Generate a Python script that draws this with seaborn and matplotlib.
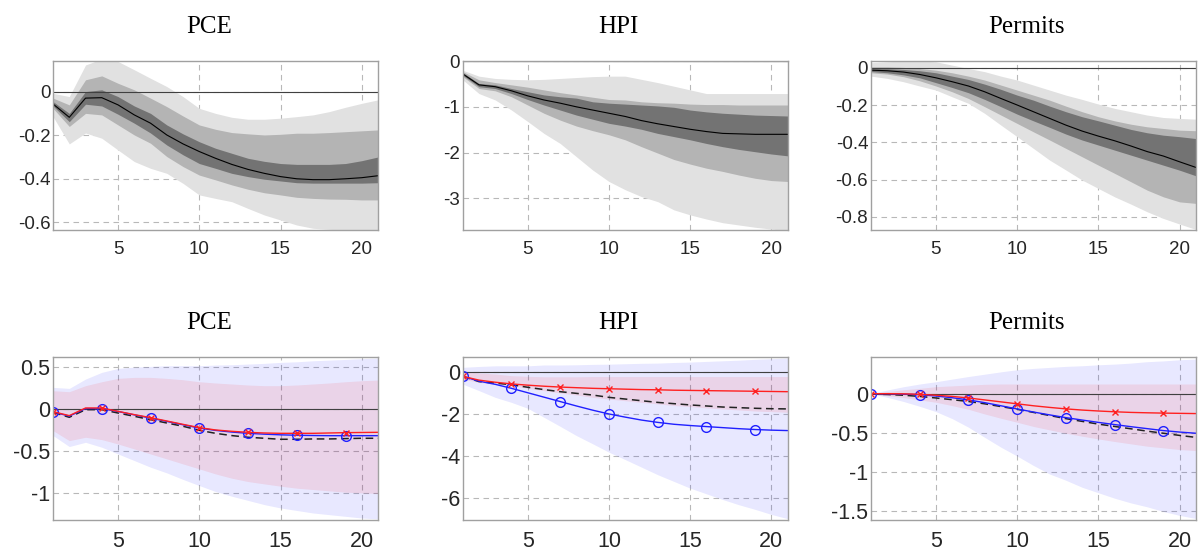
import pandas as pd
import matplotlib.pyplot as plt
import seaborn as sns

# horizons 1..21
horizon = list(range(1, 22))
titles = ['PCE', 'HPI', 'Permits']

# ---- top row: median and three bands (inner / middle / outer) ----
pce_med = [-0.057, -0.118, -0.03, -0.028, -0.061, -0.107, -0.145, -0.199, -0.24, -0.275, -0.306,
           -0.334, -0.357, -0.375, -0.39, -0.40, -0.404, -0.404, -0.40, -0.395, -0.386]
pce_in_hi = [-0.046, -0.1, 0.0, 0.008, -0.023, -0.066, -0.1, -0.153, -0.194, -0.23, -0.26,
             -0.283, -0.306, -0.32, -0.33, -0.334, -0.334, -0.334, -0.33, -0.317, -0.30]
pce_in_lo = [-0.066, -0.138, -0.058, -0.066, -0.104, -0.145, -0.19, -0.245, -0.29, -0.33, -0.352,
             -0.375, -0.39, -0.402, -0.41, -0.418, -0.42, -0.42, -0.42, -0.42, -0.418]
pce_mid_hi = [-0.03, -0.061, 0.054, 0.072, 0.038, 0.008, -0.03, -0.069, -0.112, -0.153, -0.173,
              -0.188, -0.194, -0.199, -0.196, -0.191, -0.191, -0.188, -0.184, -0.18, -0.176]
pce_mid_lo = [-0.077, -0.16, -0.10, -0.107, -0.153, -0.199, -0.237, -0.298, -0.344, -0.383, -0.405,
              -0.428, -0.448, -0.464, -0.474, -0.485, -0.49, -0.493, -0.494, -0.497, -0.497]
pce_out_hi = [-0.008, -0.023, 0.122, 0.15, 0.138, 0.10, 0.061, 0.023, -0.023, -0.077, -0.1,
              -0.118, -0.127, -0.127, -0.122, -0.115, -0.107, -0.092, -0.072, -0.054, -0.038]
pce_out_lo = [-0.115, -0.24, -0.19, -0.214, -0.268, -0.321, -0.352, -0.375, -0.421, -0.474, -0.49,
              -0.505, -0.536, -0.566, -0.589, -0.612, -0.627, -0.632, -0.635, -0.64, -0.632]

hpi_med = [-0.28, -0.52, -0.56, -0.65, -0.76, -0.85, -0.92, -1.0, -1.07, -1.14, -1.21,
           -1.30, -1.37, -1.43, -1.49, -1.54, -1.58, -1.59, -1.60, -1.60, -1.60]
hpi_in_hi = [-0.25, -0.49, -0.52, -0.6, -0.67, -0.74, -0.78, -0.81, -0.89, -0.92, -0.94,
             -0.96, -0.98, -1.01, -1.07, -1.11, -1.14, -1.16, -1.18, -1.19, -1.2]
hpi_in_lo = [-0.31, -0.56, -0.6, -0.71, -0.84, -0.96, -1.07, -1.18, -1.27, -1.36, -1.42,
             -1.49, -1.58, -1.65, -1.72, -1.8, -1.87, -1.93, -1.98, -2.03, -2.07]
hpi_mid_hi = [-0.23, -0.41, -0.47, -0.52, -0.57, -0.63, -0.69, -0.74, -0.79, -0.84, -0.85,
              -0.89, -0.91, -0.92, -0.94, -0.95, -0.95, -0.96, -0.96, -0.96, -0.96]
hpi_mid_lo = [-0.34, -0.6, -0.65, -0.78, -0.96, -1.14, -1.29, -1.42, -1.52, -1.61, -1.72,
              -1.87, -2.01, -2.15, -2.25, -2.34, -2.41, -2.49, -2.56, -2.61, -2.63]
hpi_out_hi = [-0.2, -0.33, -0.38, -0.4, -0.41, -0.4, -0.38, -0.36, -0.34, -0.33, -0.33,
              -0.4, -0.47, -0.55, -0.63, -0.71, -0.71, -0.71, -0.71, -0.71, -0.71]
hpi_out_lo = [-0.41, -0.71, -0.85, -1.07, -1.32, -1.58, -1.8, -2.09, -2.38, -2.63, -2.81,
              -2.96, -3.07, -3.25, -3.36, -3.45, -3.53, -3.58, -3.63, -3.67, -3.7]

prm_med = [-0.013, -0.016, -0.023, -0.036, -0.054, -0.075, -0.098, -0.129, -0.165, -0.2, -0.236,
           -0.272, -0.308, -0.34, -0.367, -0.392, -0.42, -0.45, -0.474, -0.505, -0.535]
prm_in_hi = [-0.004, -0.005, -0.009, -0.016, -0.027, -0.045, -0.063, -0.088, -0.116, -0.147, -0.174,
             -0.206, -0.236, -0.263, -0.285, -0.308, -0.331, -0.349, -0.362, -0.37, -0.38]
prm_in_lo = [-0.02, -0.027, -0.038, -0.054, -0.08, -0.106, -0.134, -0.17, -0.209, -0.249, -0.285,
             -0.32, -0.356, -0.388, -0.415, -0.442, -0.469, -0.496, -0.523, -0.55, -0.58]
prm_mid_hi = [0.005, 0.005, 0.002, -0.004, -0.013, -0.027, -0.045, -0.066, -0.093, -0.12, -0.147,
              -0.174, -0.206, -0.236, -0.263, -0.285, -0.303, -0.317, -0.326, -0.335, -0.338]
prm_mid_lo = [-0.027, -0.034, -0.048, -0.07, -0.098, -0.129, -0.165, -0.209, -0.254, -0.299, -0.344,
              -0.388, -0.433, -0.478, -0.523, -0.567, -0.612, -0.657, -0.693, -0.72, -0.728]
prm_out_hi = [0.027, 0.032, 0.036, 0.036, 0.032, 0.014, -0.004, -0.021, -0.045, -0.066, -0.093,
              -0.12, -0.147, -0.17, -0.195, -0.218, -0.236, -0.254, -0.267, -0.272, -0.276]
prm_out_lo = [-0.045, -0.057, -0.075, -0.098, -0.12, -0.156, -0.191, -0.245, -0.308, -0.37, -0.433,
              -0.496, -0.549, -0.603, -0.648, -0.693, -0.732, -0.773, -0.809, -0.839, -0.868]

# ---- bottom row: blue band, red band, red / blue / black lines ----
pce_blue_hi = [0.258, 0.246, 0.357, 0.437, 0.484, 0.5, 0.508, 0.516, 0.516, 0.516, 0.524,
               0.528, 0.536, 0.544, 0.556, 0.563, 0.575, 0.583, 0.591, 0.6, 0.607]
pce_blue_lo = [-0.317, -0.448, -0.397, -0.456, -0.536, -0.615, -0.694, -0.762, -0.84, -0.913, -0.984,
               -1.04, -1.09, -1.14, -1.18, -1.21, -1.24, -1.26, -1.28, -1.30, -1.31]
pce_red_hi = [0.218, 0.206, 0.278, 0.325, 0.365, 0.377, 0.377, 0.365, 0.349, 0.325, 0.31,
              0.298, 0.286, 0.278, 0.278, 0.286, 0.298, 0.31, 0.325, 0.337, 0.345]
pce_red_lo = [-0.258, -0.377, -0.337, -0.365, -0.417, -0.476, -0.536, -0.595, -0.655, -0.714, -0.774,
              -0.825, -0.865, -0.893, -0.92, -0.944, -0.96, -0.976, -0.992, -1.0, -1.008]
pce_red = [-0.032, -0.079, 0.012, 0.012, -0.028, -0.067, -0.103, -0.143, -0.183, -0.222, -0.25,
           -0.266, -0.278, -0.286, -0.29, -0.29, -0.29, -0.286, -0.282, -0.28, -0.278]
pce_blue = [-0.035, -0.085, 0.005, 0.005, -0.03, -0.07, -0.108, -0.148, -0.188, -0.227, -0.255,
            -0.275, -0.29, -0.3, -0.308, -0.313, -0.316, -0.318, -0.318, -0.318, -0.318]
pce_black = [-0.04, -0.099, -0.008, -0.008, -0.048, -0.087, -0.127, -0.167, -0.206, -0.254, -0.29,
             -0.317, -0.337, -0.349, -0.361, -0.361, -0.357, -0.357, -0.353, -0.349, -0.349]

hpi_blue_hi = [0.21, 0.25, 0.28, 0.28, 0.28, 0.32, 0.32, 0.33, 0.35, 0.36, 0.38,
               0.40, 0.41, 0.44, 0.46, 0.49, 0.52, 0.55, 0.59, 0.62, 0.65]
hpi_blue_lo = [-0.59, -0.9, -1.22, -1.46, -1.74, -2.17, -2.6, -3.04, -3.43, -3.83, -4.18,
               -4.54, -4.9, -5.22, -5.54, -5.81, -6.08, -6.33, -6.55, -6.79, -6.99]
hpi_red_hi = [0.0, -0.06, -0.11, -0.19, -0.22, -0.24, -0.24, -0.24, -0.23, -0.23, -0.23,
              -0.23, -0.23, -0.23, -0.23, -0.23, -0.23, -0.23, -0.23, -0.23, -0.23]
hpi_red_lo = [-0.35, -0.51, -0.59, -0.66, -0.79, -0.9, -1.01, -1.11, -1.22, -1.3, -1.38,
              -1.46, -1.53, -1.61, -1.66, -1.72, -1.77, -1.82, -1.87, -1.9, -1.93]
hpi_red = [-0.22, -0.4, -0.5, -0.58, -0.64, -0.69, -0.73, -0.76, -0.79, -0.81, -0.83,
           -0.85, -0.86, -0.88, -0.89, -0.9, -0.91, -0.92, -0.93, -0.94, -0.95]
hpi_blue = [-0.22, -0.45, -0.6, -0.79, -1.0, -1.21, -1.42, -1.63, -1.83, -2.01, -2.16,
            -2.3, -2.41, -2.5, -2.56, -2.61, -2.66, -2.71, -2.75, -2.78, -2.8]
hpi_black = [-0.22, -0.47, -0.54, -0.62, -0.74, -0.85, -0.95, -1.03, -1.11, -1.22, -1.3,
             -1.38, -1.46, -1.52, -1.58, -1.63, -1.68, -1.71, -1.74, -1.76, -1.77]

prm_blue_hi = [0.0, 0.047, 0.089, 0.124, 0.153, 0.187, 0.22, 0.25, 0.28, 0.307, 0.324,
               0.337, 0.35, 0.358, 0.37, 0.379, 0.392, 0.41, 0.42, 0.435, 0.443]
prm_blue_lo = [0.0, -0.047, -0.1, -0.162, -0.23, -0.32, -0.43, -0.56, -0.686, -0.8, -0.92,
               -1.03, -1.11, -1.2, -1.27, -1.34, -1.40, -1.45, -1.51, -1.56, -1.6]
prm_red_hi = [0.0, 0.026, 0.05, 0.068, 0.09, 0.1, 0.11, 0.12, 0.124, 0.124, 0.124,
              0.124, 0.124, 0.124, 0.124, 0.124, 0.124, 0.124, 0.124, 0.124, 0.124]
prm_red_lo = [0.0, -0.026, -0.05, -0.08, -0.11, -0.153, -0.2, -0.26, -0.315, -0.366, -0.42,
              -0.464, -0.507, -0.545, -0.58, -0.613, -0.643, -0.673, -0.694, -0.716, -0.729]
prm_red = [0.0, 0.0, -0.002, -0.008, -0.02, -0.035, -0.055, -0.08, -0.105, -0.13, -0.155,
           -0.176, -0.195, -0.21, -0.222, -0.232, -0.24, -0.245, -0.249, -0.252, -0.255]
prm_blue = [0.0, -0.002, -0.006, -0.013, -0.03, -0.052, -0.08, -0.115, -0.155, -0.196, -0.235,
            -0.272, -0.307, -0.338, -0.368, -0.396, -0.423, -0.448, -0.473, -0.492, -0.507]
prm_black = [-0.005, -0.01, -0.02, -0.035, -0.055, -0.077, -0.1, -0.13, -0.165, -0.2, -0.24,
             -0.28, -0.32, -0.355, -0.39, -0.42, -0.45, -0.48, -0.507, -0.535, -0.56]

# axis limits and ticks
top_ylims = [(-0.635, 0.14), (-3.69, 0.0), (-0.871, 0.036)]
top_yticks = [[-0.6, -0.4, -0.2, 0], [-3, -2, -1, 0], [-0.8, -0.6, -0.4, -0.2, 0]]
bot_ylims = [(-1.32, 0.62), (-7.04, 0.70), (-1.615, 0.47)]
bot_yticks = [[-1, -0.5, 0, 0.5], [-6, -4, -2, 0], [-1.5, -1, -0.5, 0]]

top_data = [
    (pce_med, pce_in_lo, pce_in_hi, pce_mid_lo, pce_mid_hi, pce_out_lo, pce_out_hi),
    (hpi_med, hpi_in_lo, hpi_in_hi, hpi_mid_lo, hpi_mid_hi, hpi_out_lo, hpi_out_hi),
    (prm_med, prm_in_lo, prm_in_hi, prm_mid_lo, prm_mid_hi, prm_out_lo, prm_out_hi),
]
bot_data = [
    (pce_blue_lo, pce_blue_hi, pce_red_lo, pce_red_hi, pce_red, pce_blue, pce_black),
    (hpi_blue_lo, hpi_blue_hi, hpi_red_lo, hpi_red_hi, hpi_red, hpi_blue, hpi_black),
    (prm_blue_lo, prm_blue_hi, prm_red_lo, prm_red_hi, prm_red, prm_blue, prm_black),
]

sns.set_theme(style="whitegrid")
plt.rcParams['font.family'] = ['Liberation Sans', 'DejaVu Sans']
plt.rcParams['axes.unicode_minus'] = False

fig = plt.figure(figsize=(12, 5.54), dpi=100)

lefts = [0.0442, 0.3856, 0.7258]
width = 0.2708


def style_axis(ax, ylim, yticks, title, fsize, tsize, xpad):
    ax.set_xlim(1, 21)
    ax.set_ylim(*ylim)
    ax.set_xticks([5, 10, 15, 20])
    ax.set_yticks(yticks)
    ax.set_yticklabels(['%g' % t for t in yticks])
    ax.set_xlabel('')
    ax.set_ylabel('')
    ax.set_axisbelow(True)
    ax.grid(True, color='#b8b8b8', linestyle=(0, (5, 4)), linewidth=0.8)
    for s in ax.spines.values():
        s.set_color('#a0a0a0')
        s.set_linewidth(1.0)
        s.set_zorder(10)
    ax.tick_params(axis='both', direction='in', length=3, color='#a0a0a0',
                   labelsize=fsize, labelcolor='#262626')
    ax.tick_params(axis='x', pad=xpad)
    ax.tick_params(axis='y', pad=2)
    ax.axhline(0, color='#404040', linewidth=0.8, zorder=5)
    ax.set_title(title, family=['Liberation Serif', 'DejaVu Serif'], fontsize=tsize,
                 pad=20, x=0.48, color='black')
    if ax.get_legend() is not None:
        ax.get_legend().remove()


# top row: bands in greys with median
for i in range(3):
    med, in_lo, in_hi, mid_lo, mid_hi, out_lo, out_hi = top_data[i]
    ax = fig.add_axes([lefts[i], 0.5848, width, 0.305])
    ax.fill_between(horizon, out_lo, out_hi, color='#e1e1e1', linewidth=0, zorder=2)
    ax.fill_between(horizon, mid_lo, mid_hi, color='#b4b4b4', linewidth=0, zorder=2)
    ax.fill_between(horizon, in_lo, in_hi, color='#737373', linewidth=0, zorder=2)
    df = pd.DataFrame({'h': horizon, 'irf': med})
    sns.lineplot(data=df, x='h', y='irf', ax=ax, color='black', linewidth=0.8, zorder=6)
    style_axis(ax, top_ylims[i], top_yticks[i], titles[i], 13.5, 18, 8)

# bottom row: blue and red bands with three response lines
for i in range(3):
    blo, bhi, rlo, rhi, red, blue, black = bot_data[i]
    ax = fig.add_axes([lefts[i], 0.0619, width, 0.2937])
    ax.fill_between(horizon, blo, bhi, color='blue', alpha=0.09, linewidth=0, zorder=2)
    ax.fill_between(horizon, rlo, rhi, color='red', alpha=0.09, linewidth=0, zorder=2)
    df = pd.DataFrame({'h': horizon, 'red': red, 'blue': blue, 'black': black})
    sns.lineplot(data=df, x='h', y='black', ax=ax, color='#222222', linewidth=1.1,
                 linestyle=(0, (5, 3)), zorder=6)
    sns.lineplot(data=df, x='h', y='blue', ax=ax, color='#2020ff', linewidth=1.0,
                 marker='o', markevery=3, markersize=7, markerfacecolor='none',
                 markeredgecolor='#2020ff', markeredgewidth=1.0, zorder=7)
    sns.lineplot(data=df, x='h', y='red', ax=ax, color='#ff2020', linewidth=1.0,
                 marker='x', markevery=3, markersize=5, markeredgecolor='#ff2020',
                 markeredgewidth=1.0, zorder=8)
    style_axis(ax, bot_ylims[i], bot_yticks[i], titles[i], 15.5, 18, 8)

plt.savefig('out.png', dpi=100)
plt.close()
